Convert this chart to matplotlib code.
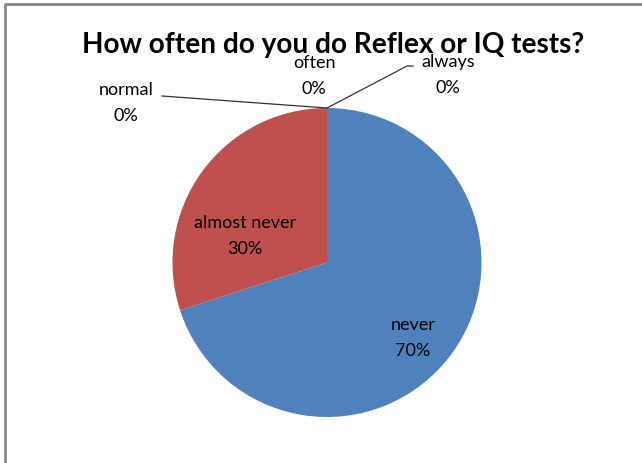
import matplotlib
matplotlib.use("Agg")
import matplotlib.pyplot as plt
import numpy as np

categories = ["never", "almost never", "normal", "often", "always"]
values = [70, 30, 0, 0, 0]
colors = ["#4F81BD", "#C0504D", "#9BBB59", "#8064A2", "#4BACC6"]
title = "How often do you do Reflex or IQ tests?"

W, H = 642, 463
fig = plt.figure(figsize=(W / 100, H / 100), dpi=100, facecolor="white")
ax = fig.add_axes([0, 0, 1, 1])

cx, cy, r = 327, H - 262.5, 154.5
wedges, _ = ax.pie(values, colors=colors, startangle=90, counterclock=False,
                   center=(cx, cy), radius=r, wedgeprops=dict(linewidth=0))
ax.set_xlim(0, W)
ax.set_ylim(0, H)
ax.set_aspect("auto")
ax.axis("off")

# border (left and top only)
ax.plot([5, 5, W + 20], [-20, H - 4, H - 4], color="#888888", lw=2, clip_on=False)

font = "Lato"
ax.text(333, H - 45, title, ha="center", va="center", fontsize=20.2, fontweight="bold", family=font)

total = sum(values)
def lab(i):
    return f"{categories[i]}\n{values[i] / total * 100:.0f}%"

lab_kw = dict(ha="center", va="center", fontsize=13, family=font, linespacing=1.7)
ax.text(413, H - 338, lab(0), **lab_kw)
ax.text(245, H - 236, lab(1), **lab_kw)
ax.text(126, H - 103, lab(2), **lab_kw)
ax.text(314, H - 76, lab(3), **lab_kw)
ax.text(448, H - 75, lab(4), **lab_kw)

top = (cx, cy + r)
ax.plot([162, top[0]], [H - 96, top[1]], color="#333333", lw=0.9)
ax.plot([top[0], 407, 413], [top[1], H - 66, H - 66], color="#333333", lw=0.9)

fig.savefig("out.png", dpi=100, facecolor="white")
